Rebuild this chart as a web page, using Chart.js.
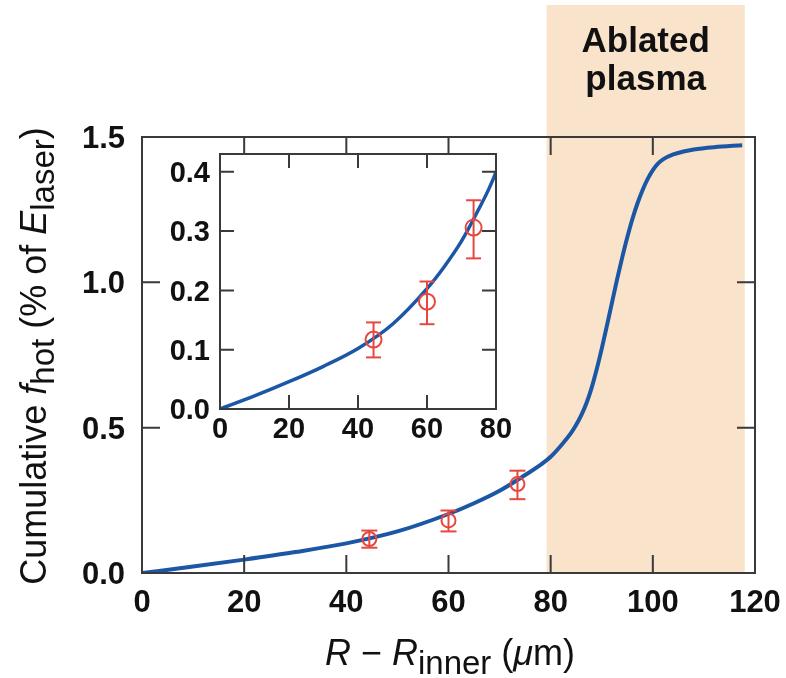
<!DOCTYPE html>
<html>
<head>
<meta charset="utf-8">
<script src="https://cdn.jsdelivr.net/npm/chart.js@4.4.1/dist/chart.umd.min.js"></script>
<style>
  html, body { margin: 0; padding: 0; background: #fff; }
  #wrap { position: relative; width: 786px; height: 678px; }
  #wrap canvas { position: absolute; left: 0; top: 0; }
</style>
</head>
<body>
<div id="wrap">
  <canvas id="main" width="786" height="678"></canvas>
  <canvas id="inset" width="786" height="678"></canvas>
</div>
<script>
// model curve: cumulative f_hot (% of E_laser) vs R - R_inner (um)
const curveX = [0, 10, 20, 30, 40, 50, 60, 65, 70, 75, 78, 80, 82, 84, 85, 86, 87, 88, 89, 90, 91, 92, 93, 94, 95, 96, 97, 98, 99, 100, 101, 102, 104, 106, 108, 112, 117.5];
const curveY = [0, 0.022, 0.046, 0.072, 0.102, 0.143, 0.203, 0.240, 0.283, 0.337, 0.372, 0.400, 0.438, 0.482, 0.510, 0.543, 0.584, 0.636, 0.700, 0.772, 0.850, 0.930, 1.010, 1.085, 1.155, 1.218, 1.272, 1.318, 1.356, 1.386, 1.408, 1.423, 1.440, 1.450, 1.457, 1.465, 1.472];

// measured points + error bars
const pointX = [44.5, 60, 73.5];
const pointY = [0.117, 0.181, 0.306];
const errLow = [0.087, 0.143, 0.254];
const errHigh = [0.146, 0.215, 0.352];

// ablated plasma band
const ablatedRange = [79.2, 118];
const ablatedLabel = ["Ablated", "plasma"];

// tick labels
const mainXTicks = [0, 20, 40, 60, 80, 100, 120];
const mainYTicks = [0.0, 0.5, 1.0, 1.5];
const insetXTicks = [0, 20, 40, 60, 80];
const insetYTicks = [0.0, 0.1, 0.2, 0.3, 0.4];

const BLUE = "#1c57a5";
const RED = "#e8473f";
const AXIS = "#3a3a3a";
const FONT = '"Liberation Sans", Arial, Helvetica, sans-serif';

function curveData() {
  return curveX.map((x, i) => ({ x: x, y: curveY[i] }));
}

function buildDatasets(lineW, markR, capR) {
  var ds = [{
    data: curveData(),
    showLine: true,
    borderColor: BLUE,
    borderWidth: lineW,
    pointRadius: 0,
    cubicInterpolationMode: "monotone",
    order: 3,
  }];
  pointX.forEach((x, i) => {
    ds.push({
      data: [{ x: x, y: errLow[i] }, { x: x, y: errHigh[i] }],
      showLine: true,
      borderColor: RED,
      borderWidth: 2,
      pointStyle: "line",
      pointRadius: capR,
      pointBorderColor: RED,
      pointBorderWidth: 2,
      order: 2,
    });
  });
  ds.push({
    data: pointX.map((x, i) => ({ x: x, y: pointY[i] })),
    pointStyle: "circle",
    pointRadius: markR,
    pointBorderColor: RED,
    pointBackgroundColor: "rgba(0,0,0,0)",
    pointBorderWidth: 2,
    order: 1,
  });
  return ds;
}

// box, inward ticks on all four sides, tick labels
function drawFrame(chart, cfg) {
  const { ctx, chartArea: a } = chart;
  const x = chart.scales.x, y = chart.scales.y;
  ctx.save();
  ctx.strokeStyle = AXIS;
  ctx.lineWidth = 2;
  ctx.strokeRect(a.left, a.top, a.right - a.left, a.bottom - a.top);
  ctx.beginPath();
  cfg.xTicks.forEach((v) => {
    if (v <= x.min || v >= x.max) return;
    const px = x.getPixelForValue(v);
    ctx.moveTo(px, a.bottom); ctx.lineTo(px, a.bottom - cfg.tickLen);
    ctx.moveTo(px, a.top); ctx.lineTo(px, a.top + cfg.tickLen);
  });
  cfg.yTicks.forEach((v) => {
    if (v <= y.min || v >= y.max) return;
    const py = y.getPixelForValue(v);
    ctx.moveTo(a.left, py); ctx.lineTo(a.left + cfg.tickLen, py);
    ctx.moveTo(a.right, py); ctx.lineTo(a.right - cfg.tickLen, py);
  });
  ctx.stroke();

  ctx.fillStyle = "#111";
  ctx.font = "bold " + cfg.fontSize + "px " + FONT;
  ctx.textBaseline = "alphabetic";
  const cap = cfg.fontSize * 0.716;
  ctx.textAlign = "center";
  cfg.xTicks.forEach((v) => {
    ctx.fillText(String(v), x.getPixelForValue(v), a.bottom + cfg.xGap + cap);
  });
  ctx.textAlign = "right";
  cfg.yTicks.forEach((v) => {
    ctx.fillText(v.toFixed(1), a.left - cfg.yGap, y.getPixelForValue(v) + cap / 2);
  });
  ctx.restore();
}

function drawRich(ctx, parts, cx, cy, angle) {
  ctx.save();
  ctx.translate(cx, cy);
  ctx.rotate(angle);
  ctx.fillStyle = "#111";
  ctx.textAlign = "left";
  ctx.textBaseline = "alphabetic";
  let total = 0;
  parts.forEach((p) => {
    ctx.font = p.font;
    p.w = ctx.measureText(p.text).width;
    total += p.w;
  });
  let xx = -total / 2;
  parts.forEach((p) => {
    ctx.font = p.font;
    ctx.fillText(p.text, xx, p.dy || 0);
    xx += p.w;
  });
  ctx.restore();
}

const mainDecor = {
  id: "mainDecor",
  beforeDatasetsDraw(chart) {
    const { ctx, chartArea } = chart;
    const xs = chart.scales.x;
    const x0 = xs.getPixelForValue(ablatedRange[0]);
    const x1 = xs.getPixelForValue(ablatedRange[1]);
    ctx.save();
    ctx.fillStyle = "#f9e3ca";
    ctx.fillRect(x0, 5, x1 - x0, chartArea.bottom - 5);
    ctx.fillStyle = "#111";
    ctx.font = "bold 35px " + FONT;
    ctx.textAlign = "center";
    ctx.textBaseline = "alphabetic";
    ablatedLabel.forEach((s, i) => ctx.fillText(s, (x0 + x1) / 2, 52 + i * 38));
    ctx.restore();
  },
  afterDatasetsDraw(chart) {
    drawFrame(chart, { xTicks: mainXTicks, yTicks: mainYTicks, tickLen: 18, fontSize: 31, xGap: 17, yGap: 17 });
    const n = "36px " + FONT, it = "italic 36px " + FONT, s = "33px " + FONT;
    drawRich(chart.ctx, [
      { text: "Cumulative ", font: n },
      { text: "f", font: it },
      { text: "hot", font: s, dy: 8 },
      { text: " (% of ", font: n },
      { text: "E", font: it },
      { text: "laser", font: s, dy: 8 },
      { text: ")", font: n },
    ], 46, 356, -Math.PI / 2);
    drawRich(chart.ctx, [
      { text: "R", font: it },
      { text: " \u2212 ", font: n },
      { text: "R", font: it },
      { text: "inner", font: s, dy: 9 },
      { text: " (", font: n },
      { text: "\u03bc", font: it },
      { text: "m)", font: n },
    ], 450, 665, 0);
  },
};

const insetDecor = {
  id: "insetDecor",
  beforeDatasetsDraw(chart) {
    const { ctx, chartArea: a } = chart;
    ctx.save();
    ctx.fillStyle = "#fff";
    ctx.fillRect(a.left, a.top, a.right - a.left, a.bottom - a.top);
    ctx.restore();
  },
  afterDatasetsDraw(chart) {
    drawFrame(chart, { xTicks: insetXTicks, yTicks: insetYTicks, tickLen: 14, fontSize: 29, xGap: 8, yGap: 10 });
  },
};

function hiddenScales(xmin, xmax, ymin, ymax) {
  return {
    x: { type: "linear", min: xmin, max: xmax, display: false },
    y: { type: "linear", min: ymin, max: ymax, display: false },
  };
}

new Chart(document.getElementById("main").getContext("2d"), {
  type: "scatter",
  data: { datasets: buildDatasets(4, 7, 8) },
  options: {
    responsive: false,
    animation: false,
    devicePixelRatio: 1,
    layout: { padding: { left: 142, right: 31, top: 137, bottom: 105 } },
    plugins: { legend: { display: false }, tooltip: { enabled: false } },
    scales: hiddenScales(0, 120, 0, 1.5),
  },
  plugins: [mainDecor],
});

new Chart(document.getElementById("inset").getContext("2d"), {
  type: "scatter",
  data: { datasets: buildDatasets(3.5, 8, 7.5) },
  options: {
    responsive: false,
    animation: false,
    devicePixelRatio: 1,
    layout: { padding: { left: 220, right: 290, top: 154, bottom: 269 } },
    plugins: { legend: { display: false }, tooltip: { enabled: false } },
    scales: hiddenScales(0, 80, 0, 0.43),
  },
  plugins: [insetDecor],
});
</script>
</body>
</html>
